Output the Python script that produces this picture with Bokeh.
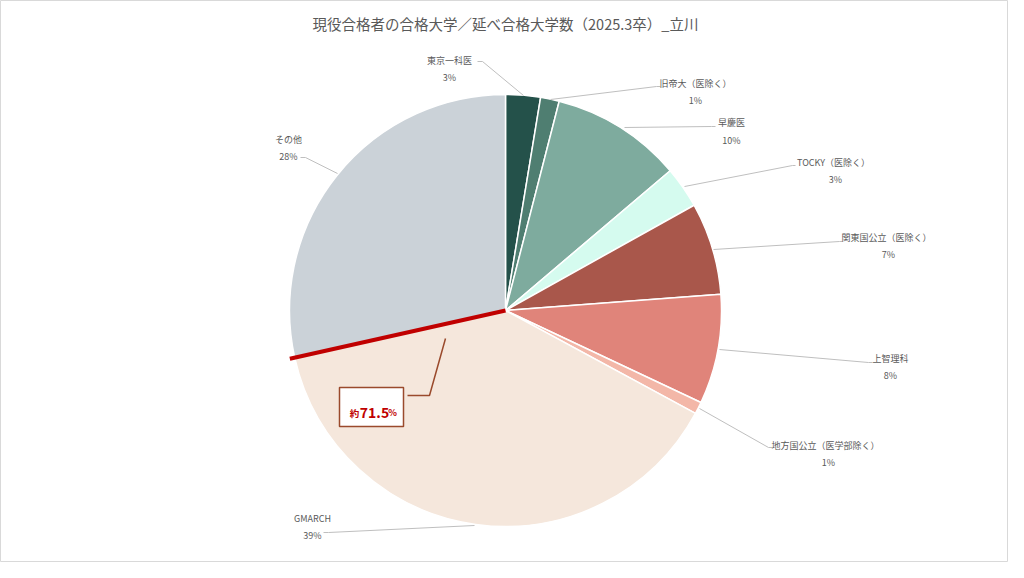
import math
from bokeh.plotting import figure
from bokeh.models import Range1d, ColumnDataSource
from bokeh.core.properties import value
from bokeh.embed import file_html
from bokeh.resources import INLINE

# ---- data ----
categories = ["東京一科医", "旧帝大（医除く）", "早慶医", "TOCKY（医除く）",
              "関東国公立（医除く）", "上智理科", "地方国公立（医学部除く）",
              "GMARCH", "その他"]
shares = [2.6, 1.4, 9.8, 3.1, 6.9, 8.2, 0.9, 38.6, 28.5]
colors = ["#24514a", "#4f7e71", "#7eab9e", "#d5fbef", "#a9574b",
          "#e0847a", "#f3b7a8", "#f5e7dc", "#cbd2d8"]
title_text = "現役合格者の合格大学／延べ合格大学数（2025.3卒）_立川"
callout_parts = ["約", "71.5", "%"]
callout_upto = 8  # cumulative share up to and including GMARCH

W, H = 1008, 562
FONT = "Noto Sans CJK JP"
GREY = "#595959"

def X(px):
    return px - 8

def Y(py):
    return H + 8 - py

p = figure(width=W, height=H, output_backend="svg", toolbar_location=None,
           x_range=Range1d(0, W), y_range=Range1d(0, H), min_border=0)
p.axis.visible = False
p.grid.visible = False
p.outline_line_color = "#d9d9d9"
p.outline_line_width = 1
p.background_fill_color = "white"
p.border_fill_color = "white"

cx, cy, R = X(513), Y(318), 216

total = sum(shares)
cum = [0.0]
for v in shares:
    cum.append(cum[-1] + v / total)
starts = [math.pi / 2 - 2 * math.pi * cum[i + 1] for i in range(len(shares))]
ends = [math.pi / 2 - 2 * math.pi * cum[i] for i in range(len(shares))]

src = ColumnDataSource(dict(x=[cx] * len(shares), y=[cy] * len(shares),
                            start=starts, end=ends, color=colors))
p.wedge(x="x", y="y", radius=R, start_angle="start", end_angle="end",
        fill_color="color", line_color="white", line_width=1.5, source=src)

# red dividing line at cumulative share
a = math.pi / 2 - 2 * math.pi * cum[callout_upto]
L = R + 5
p.segment(x0=[cx], y0=[cy], x1=[cx + L * math.cos(a)], y1=[cy + L * math.sin(a)],
          line_color="#c00000", line_width=4)

# title
p.text(x=[X(513)], y=[Y(31)], text=[title_text], text_font=value(FONT),
       text_font_size="14.5px", text_color=GREY, text_align="center",
       text_baseline="middle")

# labels
name_pos = [(457, 68), (703, 91), (739, 130), (841, 170), (894, 245),
            (898, 366), (833, 453), (320, 526), (296, 147)]
pct_pos = [(457, 85), (703, 108), (739, 148), (843, 187), (896, 262),
           (898, 383), (836, 470), (320, 543), (296, 164)]
leaders = [
    [(485, 69), (490, 69), (531, 103)],
    [(558, 107), (664, 94), (668, 94)],
    [(632, 135), (719, 134), (723, 134)],
    [(692, 194), (800, 173), (803, 173)],
    [(721, 257), (847, 249), (850, 249)],
    [(727, 357), (876, 370), (880, 370)],
    [(707, 416), (776, 455), (780, 455)],
    [(482, 533), (336, 540), (331, 540)],
    [(345, 181), (313, 165), (308, 165)],
]
p.multi_line(xs=[[X(q[0]) for q in l] for l in leaders],
             ys=[[Y(q[1]) for q in l] for l in leaders],
             line_color="#bfbfbf", line_width=1)

p.text(x=[X(q[0]) for q in name_pos], y=[Y(q[1]) for q in name_pos],
       text=categories, text_font=value(FONT), text_font_size="9px",
       text_color=GREY, text_align="center", text_baseline="middle")
pct_text = [f"{round(v / total * 100)}%" for v in shares]
p.text(x=[X(q[0]) for q in pct_pos], y=[Y(q[1]) for q in pct_pos],
       text=pct_text, text_font=value(FONT), text_font_size="9px",
       text_color=GREY, text_align="center", text_baseline="middle")

# callout
BROWN = "#9a4a2c"
p.line(x=[X(453), X(437), X(415)], y=[Y(346), Y(403), Y(403)],
       line_color=BROWN, line_width=1.5)
p.quad(left=[X(347)], right=[X(411)], top=[Y(395)], bottom=[Y(434)],
       fill_color="white", line_color=BROWN, line_width=1.5)
p.text(x=[X(362)], y=[Y(420)], text=[callout_parts[0]], text_font=value(FONT),
       text_font_size="9.5px", text_color="#c00000", text_align="center",
       text_baseline="alphabetic", text_font_style="bold")
p.text(x=[X(382)], y=[Y(420)], text=[callout_parts[1]], text_font=value(FONT),
       text_font_size="14px", text_color="#c00000", text_align="center",
       text_baseline="alphabetic", text_font_style="bold")
p.text(x=[X(400)], y=[Y(420)], text=[callout_parts[2]], text_font=value(FONT),
       text_font_size="9px", text_color="#c00000", text_align="center",
       text_baseline="alphabetic", text_font_style="bold")

open("out.html", "w").write(file_html(p, INLINE))
